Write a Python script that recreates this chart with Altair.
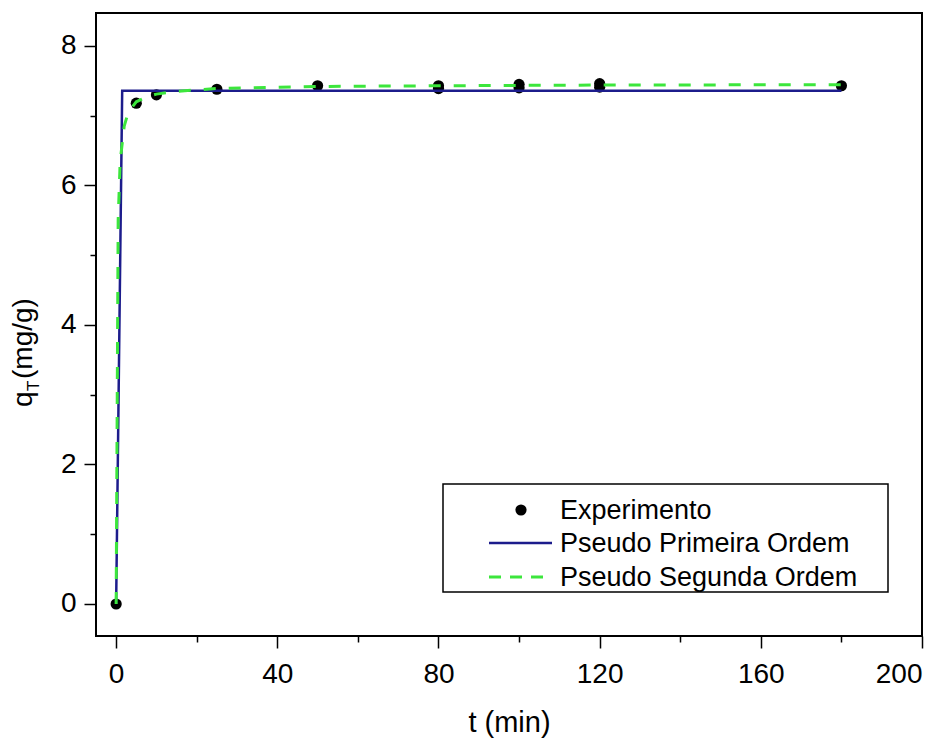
import altair as alt
import pandas as pd

t_exp = [0, 5, 10, 25, 50, 80, 80, 100, 100, 120, 120, 180]
q_exp = [0, 7.18, 7.30, 7.38, 7.43, 7.39, 7.43, 7.40, 7.45, 7.41, 7.46, 7.43]

# Pseudo first order fit
t_pfo = [0, 1.5, 180]
q_pfo = [0, 7.36, 7.36]

# Pseudo second order fit
t_pso = [0, 0.5, 1, 2, 3, 5, 8, 10, 15, 25, 50, 80, 100, 120, 180]
q_pso = [0, 5.5, 6.35, 6.85, 7.05, 7.2, 7.28, 7.31, 7.35, 7.39, 7.42, 7.43, 7.435, 7.44, 7.445]

x_major = [0, 40, 80, 120, 160, 200]
x_minor = [20, 60, 100, 140, 180]
y_major = [0, 2, 4, 6, 8]
y_minor = [1, 3, 5, 7]

legend_labels = ["Experimento", "Pseudo Primeira Ordem", "Pseudo Segunda Ordem"]

FONT = "Liberation Sans"
BLUE = "#1c1c8c"
GREEN = "#3ce63c"

exp_df = pd.DataFrame({"t": t_exp, "q": q_exp})
pfo_df = pd.DataFrame({"t": t_pfo, "q": q_pfo})
pso_df = pd.DataFrame({"t": t_pso, "q": q_pso})

x_scale = alt.Scale(domain=[-5, 200], nice=False, zero=False)
y_scale = alt.Scale(domain=[-0.459, 8.473], nice=False, zero=False)

x_axis = alt.Axis(values=x_major, tickSize=12, tickWidth=1.5, tickColor="black",
                  labelFontSize=28, labelFont=FONT, labelColor="black", labelPadding=12,
                  title="t (min)", titleFontSize=29, titleFont=FONT, titleFontWeight="normal",
                  titleColor="black", titlePadding=20, domain=False, grid=False, orient="bottom")
y_axis = alt.Axis(values=y_major, tickSize=12, tickWidth=1.5, tickColor="black",
                  labelFontSize=28, labelFont=FONT, labelColor="black", labelPadding=8,
                  title=None, domain=False, grid=False, orient="left")

points = alt.Chart(exp_df).mark_circle(size=125, color="black", opacity=1).encode(
    x=alt.X("t:Q", scale=x_scale, axis=x_axis),
    y=alt.Y("q:Q", scale=y_scale, axis=y_axis),
)

minor = alt.Chart(exp_df).mark_circle(opacity=0).encode(
    x=alt.X("t:Q", scale=x_scale,
            axis=alt.Axis(values=x_minor, tickSize=6, tickWidth=1.5, tickColor="black",
                          labels=False, title=None, domain=False, grid=False, orient="bottom")),
    y=alt.Y("q:Q", scale=y_scale,
            axis=alt.Axis(values=y_minor, tickSize=6, tickWidth=1.5, tickColor="black",
                          labels=False, title=None, domain=False, grid=False, orient="left")),
)

pfo = alt.Chart(pfo_df).mark_line(color=BLUE, strokeWidth=2.5).encode(
    x=alt.X("t:Q", scale=x_scale, axis=None),
    y=alt.Y("q:Q", scale=y_scale, axis=None),
    order="t:Q",
)
pso = alt.Chart(pso_df).mark_line(color=GREEN, strokeWidth=3, strokeDash=[12, 13]).encode(
    x=alt.X("t:Q", scale=x_scale, axis=None),
    y=alt.Y("q:Q", scale=y_scale, axis=None),
    order="t:Q",
)

one = pd.DataFrame({"a": [0]})

# y-axis title with subscript
ytitle_q = alt.Chart(one).mark_text(text="q", angle=270, align="left", baseline="alphabetic",
                                     font=FONT, fontSize=28, color="black").encode(
    x=alt.value(-64), y=alt.value(394))
ytitle_T = alt.Chart(one).mark_text(text="T", angle=270, align="left", baseline="alphabetic",
                                     font=FONT, fontSize=17, color="black").encode(
    x=alt.value(-57), y=alt.value(378))
ytitle_rest = alt.Chart(one).mark_text(text="(mg/g)", angle=270, align="left", baseline="alphabetic",
                                        font=FONT, fontSize=28, color="black").encode(
    x=alt.value(-64), y=alt.value(366))

# legend
leg_box = alt.Chart(one).mark_rect(fill="white", stroke="black", strokeWidth=1.5).encode(
    x=alt.value(347), x2=alt.value(792), y=alt.value(471), y2=alt.value(579))
leg_dot = alt.Chart(one).mark_circle(size=125, color="black", opacity=1).encode(
    x=alt.value(425), y=alt.value(497))
leg_l1 = alt.Chart(one).mark_rule(color=BLUE, strokeWidth=2.5).encode(
    x=alt.value(393), x2=alt.value(456), y=alt.value(530))
leg_l2 = alt.Chart(one).mark_rule(color=GREEN, strokeWidth=3, strokeDash=[12, 9]).encode(
    x=alt.value(393), x2=alt.value(456), y=alt.value(564))

leg_rows_y = [498, 531, 565]
leg_texts = [
    alt.Chart(one).mark_text(text=lab, align="left", baseline="middle", font=FONT,
                             fontSize=27, color="black").encode(x=alt.value(464), y=alt.value(yy))
    for lab, yy in zip(legend_labels, leg_rows_y)
]

chart = alt.layer(
    points, minor, pfo, pso,
    ytitle_q, ytitle_T, ytitle_rest,
    leg_box, leg_dot, leg_l1, leg_l2, *leg_texts,
).resolve_axis(x="independent", y="independent").properties(
    width=826, height=623,
    padding={"left": 88, "top": 5, "right": 22, "bottom": 104},
    autosize=alt.AutoSizeParams(type="none"),
    background="white",
).configure_view(stroke="black", strokeWidth=2)

chart.save("out.html", embed_options={"renderer": "svg", "actions": False})
